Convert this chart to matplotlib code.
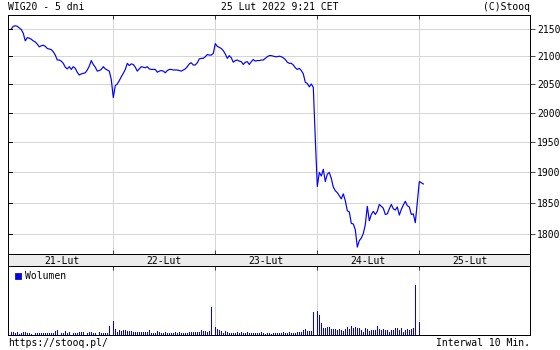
import matplotlib
matplotlib.use("Agg")
import matplotlib.pyplot as plt
from matplotlib.ticker import NullLocator
from matplotlib.transforms import blended_transform_factory

# --- data: WIG20, 10 min bars, 21-25 Feb 2022 ---
days = ["21-Lut", "22-Lut", "23-Lut", "24-Lut", "25-Lut"]
slots_per_day = 51

price_21 = [2150, 2155, 2156, 2155, 2152, 2149, 2142, 2128, 2134, 2133,
            2131, 2128, 2126, 2122, 2117, 2119, 2120, 2118, 2114, 2113,
            2112, 2108, 2102, 2093, 2093, 2091, 2087, 2080, 2077, 2081,
            2076, 2081, 2078, 2071, 2066, 2068, 2069, 2070, 2075, 2082,
            2092, 2085, 2080, 2073, 2074, 2076, 2081, 2077, 2075, 2073,
            2058]
price_22 = [2026, 2047, 2050, 2056, 2063, 2069, 2076, 2087, 2083, 2086,
            2085, 2080, 2073, 2077, 2081, 2080, 2079, 2081, 2077, 2076,
            2076, 2076, 2071, 2073, 2074, 2073, 2070, 2074, 2076, 2076,
            2075, 2075, 2075, 2074, 2073, 2075, 2077, 2081, 2086, 2088,
            2084, 2084, 2088, 2095, 2096, 2096, 2099, 2103, 2102, 2102,
            2105]
price_23 = [2123, 2118, 2116, 2114, 2110, 2104, 2096, 2101, 2097, 2089,
            2092, 2093, 2091, 2090, 2085, 2089, 2090, 2085, 2090, 2094,
            2091, 2092, 2092, 2093, 2093, 2096, 2099, 2101, 2101, 2100,
            2099, 2099, 2100, 2099, 2097, 2094, 2089, 2087, 2087, 2084,
            2079, 2076, 2078, 2074, 2068, 2053, 2051, 2045, 2050, 2044,
            1955]
price_24 = [1876, 1899, 1893, 1904, 1884, 1896, 1899, 1889, 1875, 1869,
            1866, 1861, 1856, 1864, 1853, 1837, 1835, 1817, 1816, 1807,
            1780, 1790, 1794, 1801, 1815, 1844, 1821, 1831, 1836, 1831,
            1836, 1847, 1844, 1841, 1831, 1832, 1840, 1847, 1840, 1838,
            1843, 1830, 1839, 1846, 1852, 1845, 1843, 1831, 1832, 1818,
            1850]
price_25 = [1884, 1882, 1880]

vol_21 = [3, 3, 2, 3, 1, 2, 3, 3, 2, 2, 1, 0, 2, 2, 2, 2, 2, 2, 2, 2,
          2, 2, 4, 5, 0, 2, 2, 4, 2, 3, 0, 2, 2, 2, 3, 3, 3, 0, 2, 3,
          3, 2, 2, 0, 3, 2, 2, 2, 2, 9, 0]
vol_22 = [14, 6, 3, 5, 4, 5, 5, 4, 4, 4, 3, 3, 3, 3, 3, 3, 3, 3, 5, 2,
          2, 2, 4, 3, 2, 2, 3, 2, 2, 2, 2, 3, 2, 3, 2, 2, 2, 2, 3, 3,
          3, 3, 3, 3, 5, 4, 4, 3, 4, 28, 0]
vol_23 = [8, 6, 5, 4, 2, 4, 3, 2, 2, 2, 2, 3, 2, 3, 2, 2, 3, 2, 2, 2,
          2, 2, 2, 3, 2, 1, 2, 2, 1, 2, 2, 2, 2, 2, 3, 2, 2, 3, 2, 2,
          2, 3, 3, 3, 5, 6, 4, 4, 4, 23, 0]
vol_24 = [24, 20, 12, 7, 7, 8, 8, 6, 6, 6, 5, 6, 5, 4, 6, 8, 6, 9, 7, 8,
          7, 7, 5, 3, 7, 6, 4, 5, 5, 5, 9, 6, 5, 6, 5, 5, 3, 5, 5, 7,
          7, 5, 7, 3, 5, 6, 5, 6, 7, 50, 0]
vol_25 = [13]

yticks = [1800, 1850, 1900, 1950, 2000, 2050, 2100, 2150]

# --- build x positions (day index + slot fraction) ---
price_days = [price_21, price_22, price_23, price_24, price_25]
vol_days = [vol_21, vol_22, vol_23, vol_24, vol_25]
px, py = [], []
for d, vals in enumerate(price_days):
    for s, v in enumerate(vals):
        px.append(d + s / slots_per_day)
        py.append(v)
vx, vy = [], []
for d, vals in enumerate(vol_days):
    for s, v in enumerate(vals):
        vx.append(d + s / slots_per_day)
        vy.append(v)

# pixel-style look: no antialiasing on grid / frame
plt.rcParams["font.family"] = ["DejaVu Sans Mono"]
plt.rcParams["font.size"] = 7
plt.rcParams["lines.antialiased"] = False
plt.rcParams["patch.antialiased"] = False

W, H = 560, 350
fig = plt.figure(figsize=(W / 100, H / 100), dpi=100)
ax = fig.add_axes([8 / W, 96 / H, 522 / W, 239 / H])
band = fig.add_axes([8 / W, 84 / H, 522 / W, 12 / H])
axv = fig.add_axes([8 / W, 15 / H, 522 / W, 69 / H])

xlim = (-0.032, 5.085)
grid_c = "#d6d6d6"
lw = 0.5
blue = "#0000ff"

# price panel
ax.plot(px, py, color=blue, lw=0.85, antialiased=True)
ax.set_yscale("log")
ax.set_ylim(1769.4, 2176.2)
ax.set_xlim(*xlim)
ax.set_yticks(yticks)
ax.yaxis.set_minor_locator(NullLocator())
ax.set_yticklabels([str(t) for t in yticks])
ax.yaxis.tick_right()
ax.tick_params(axis="y", direction="out", length=3.5, width=lw, pad=1.5, labelsize=7)
ax.set_xticks([1, 2, 3, 4])
ax.tick_params(axis="x", direction="in", top=True, bottom=True, length=3,
               width=lw, labelbottom=False)
ax.grid(color=grid_c, lw=lw)
ax.set_axisbelow(True)
for sp in ax.spines.values():
    sp.set_linewidth(lw)
# inward tick marks on the left edge
trans = blended_transform_factory(ax.transAxes, ax.transData)
for t in yticks:
    ax.plot([0, 4 / 522], [t, t], transform=trans, color="black", lw=lw)

# date band
band.set_facecolor("#ececec")
band.set_xlim(*xlim)
band.set_ylim(0, 1)
band.set_xticks([])
band.set_yticks([])
for sp in band.spines.values():
    sp.set_linewidth(lw)
for d, name in enumerate(days):
    band.text(d + 0.5, 0.45, name, ha="center", va="center", fontsize=7)

# volume panel
axv.bar(vx, vy, width=1.15 / 102, color=blue, linewidth=0, antialiased=False)
axv.set_xlim(*xlim)
axv.set_ylim(0, 69)
axv.set_yticks([])
axv.set_xticks([1, 2, 3, 4])
axv.tick_params(axis="x", direction="in", top=True, bottom=False, length=3,
                width=lw, labelbottom=False)
axv.grid(axis="x", color=grid_c, lw=lw)
axv.set_axisbelow(True)
for sp in axv.spines.values():
    sp.set_linewidth(lw)
axv.scatter([9.5 / 522], [0.855], transform=axv.transAxes, marker="s", s=18,
            color=blue, edgecolors="#000080", linewidths=0.5)
axv.text(17 / 522, 0.855, "Wolumen", transform=axv.transAxes, va="center",
         ha="left", fontsize=7)

# header / footer
fig.text(8 / W, 1 - 7 / H, "WIG20 - 5 dni", ha="left", va="center", fontsize=7)
fig.text(280 / W, 1 - 7 / H, "25 Lut 2022 9:21 CET", ha="center", va="center", fontsize=7)
fig.text(530 / W, 1 - 7 / H, "(C)Stooq", ha="right", va="center", fontsize=7)
fig.text(8 / W, 1 - 343 / H, "https://stooq.pl/", ha="left", va="center", fontsize=7)
fig.text(530 / W, 1 - 343 / H, "Interwal 10 Min.", ha="right", va="center", fontsize=7)

fig.savefig("out.png", dpi=100, facecolor="white")
plt.close("all")
